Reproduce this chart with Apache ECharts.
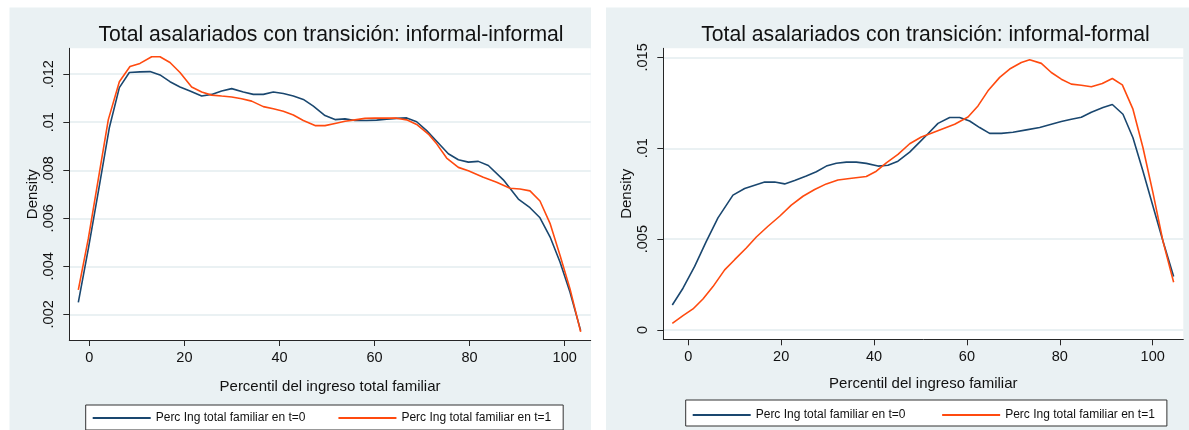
<!DOCTYPE html>
<html>
<head>
<meta charset="utf-8">
<script src="https://cdn.jsdelivr.net/npm/echarts@6/dist/echarts.min.js"></script>
<style>
html,body{margin:0;padding:0;background:#fff;}
#c{width:1189px;height:430px;}
</style>
</head>
<body>
<div id="c"></div>
<script>
// ---------- DATA ----------
var titles = ['Total asalariados con transición: informal-informal', 'Total asalariados con transición: informal-formal'];
var xNames = ['Percentil del ingreso total familiar', 'Percentil del ingreso familiar'];
var yName = 'Density';
var seriesNames = ['Perc Ing total familiar en t=0', 'Perc Ing total familiar en t=1'];
var xTicks = [0, 20, 40, 60, 80, 100];
var yTicksLeft = [0.002, 0.004, 0.006, 0.008, 0.01, 0.012];
var yTicksRight = [0, 0.005, 0.01, 0.015];

// Left panel: informal-informal
var leftX0 = [-2.31,-0.20,1.90,4.21,6.32,8.42,10.66,12.77,14.87,16.97,19.08,21.18,23.64,25.74,27.84,29.95,32.40,34.50,36.61,38.71,40.81,42.92,45.02,47.13,49.58,51.68,53.79,55.89,58.35,60.45,62.55,64.66,66.76,68.86,70.97,73.07,75.52,77.63,79.73,81.83,83.94,87.09,90.25,92.70,94.80,96.91,99.01,101.12,103.36];
var leftY0 = [0.00250,0.00474,0.00711,0.00977,0.01144,0.01207,0.01210,0.01211,0.01197,0.01169,0.01147,0.01130,0.01109,0.01116,0.01130,0.01140,0.01126,0.01116,0.01116,0.01126,0.01120,0.01109,0.01095,0.01067,0.01028,0.01011,0.01014,0.01007,0.01007,0.01009,0.01013,0.01016,0.01018,0.01002,0.00965,0.00921,0.00869,0.00844,0.00834,0.00837,0.00820,0.00760,0.00680,0.00644,0.00602,0.00523,0.00418,0.00292,0.00132];
var leftX1 = [-2.31,-0.20,1.69,4.00,6.32,8.56,10.66,13.12,14.87,16.97,19.08,21.53,23.64,25.74,27.84,29.95,32.05,34.15,36.61,38.71,40.81,42.92,45.02,47.48,49.58,51.68,53.79,55.89,57.99,60.10,62.55,64.66,66.76,68.86,71.32,73.07,75.17,77.63,79.73,82.88,85.69,88.49,90.60,92.70,94.80,96.91,99.01,101.12,103.36];
var leftY1 = [0.00302,0.00516,0.00739,0.01011,0.01169,0.01232,0.01245,0.01273,0.01273,0.01249,0.01207,0.01147,0.01126,0.01113,0.01109,0.01105,0.01098,0.01088,0.01065,0.01056,0.01046,0.01030,0.01007,0.00986,0.00986,0.00995,0.01004,0.01010,0.01016,0.01017,0.01017,0.01017,0.01010,0.00991,0.00951,0.00910,0.00851,0.00812,0.00798,0.00771,0.00750,0.00725,0.00722,0.00714,0.00672,0.00579,0.00446,0.00306,0.00127];

// Right panel: informal-formal
var rightX0 = [-3.44,-1.14,1.37,3.88,6.39,9.62,12.14,14.29,16.44,18.60,20.75,22.90,25.41,27.57,29.72,31.87,34.03,36.18,38.33,40.85,43.00,45.15,47.67,49.82,51.61,53.77,56.28,58.43,60.58,62.74,64.89,67.40,69.91,72.79,75.66,78.17,80.32,82.48,84.63,86.79,89.30,91.31,93.60,95.75,97.91,100.06,102.22,104.51];
var rightY0 = [0.00138,0.00230,0.00350,0.00488,0.00617,0.00742,0.00779,0.00797,0.00814,0.00814,0.00804,0.00823,0.00847,0.00871,0.00902,0.00918,0.00924,0.00924,0.00917,0.00902,0.00907,0.00929,0.00979,0.01034,0.01080,0.01137,0.01169,0.01169,0.01150,0.01114,0.01082,0.01082,0.01088,0.01101,0.01114,0.01132,0.01147,0.01160,0.01171,0.01198,0.01224,0.01241,0.01187,0.01058,0.00874,0.00681,0.00488,0.00295];
var rightX1 = [-3.44,-1.14,1.01,3.16,5.32,7.83,9.98,12.49,14.65,17.16,19.67,22.18,24.70,27.21,29.72,32.23,34.75,38.33,40.49,42.64,45.15,47.67,50.18,52.33,54.84,57.36,60.23,62.38,64.53,67.05,69.20,71.71,73.51,76.02,78.17,80.32,82.48,84.63,86.79,89.15,91.31,93.46,95.75,97.91,100.06,102.22,104.51];
var rightY1 = [0.00037,0.00079,0.00116,0.00171,0.00239,0.00331,0.00387,0.00451,0.00512,0.00571,0.00626,0.00687,0.00736,0.00773,0.00804,0.00825,0.00834,0.00845,0.00874,0.00920,0.00966,0.01025,0.01062,0.01082,0.01108,0.01132,0.01172,0.01233,0.01316,0.01390,0.01436,0.01472,0.01487,0.01467,0.01417,0.01380,0.01353,0.01347,0.01338,0.01356,0.01384,0.01349,0.01215,0.01003,0.00755,0.00488,0.00263];

// ---------- STYLE ----------
var FONT = 'Liberation Sans, Arial, sans-serif';
var BG = '#eaf1f3';
var GRID = '#e3edef';
var AX = '#262626';
var C0 = '#1a476f';
var C1 = '#ff4a0f';

function pairs(xs, ys) { return xs.map(function (x, i) { return [x, ys[i]]; }); }
function fmtY(v) {
  if (v === 0) return '0';
  var s = String(+v.toFixed(4));
  return s.replace(/^0\./, '.');
}

function xAxis(gi, min, max, nameGap, margin) {
  return {
    type: 'value', gridIndex: gi, min: min, max: max,
    name: xNames[gi], nameLocation: 'middle', nameGap: nameGap,
    nameTextStyle: { fontFamily: FONT, fontSize: 15, color: '#111' },
    axisLine: { show: true, onZero: false, lineStyle: { color: AX, width: 1 } },
    axisTick: { show: true, length: 6, customValues: xTicks, lineStyle: { color: AX } },
    axisLabel: { customValues: xTicks, margin: margin, fontFamily: FONT, fontSize: 14.5, color: '#111' },
    splitLine: { show: false }
  };
}
function yAxis(gi, min, max, ticks) {
  return {
    type: 'value', gridIndex: gi, min: min, max: max,
    name: yName, nameLocation: 'middle', nameGap: 24, nameRotate: 90,
    nameTextStyle: { fontFamily: FONT, fontSize: 15, color: '#111' },
    axisLine: { show: true, onZero: false, lineStyle: { color: AX, width: 1 } },
    axisTick: { show: true, length: 6, customValues: ticks, lineStyle: { color: AX } },
    axisLabel: { customValues: ticks, rotate: 90, margin: 13, fontFamily: FONT, fontSize: 14.5, color: '#111', formatter: fmtY },
    splitLine: { show: true, lineStyle: { color: GRID, width: 1.5 } }
  };
}
function line(name, data, gi, color) {
  return {
    type: 'line', name: name, data: data, xAxisIndex: gi, yAxisIndex: gi,
    symbol: 'none', showSymbol: false, smooth: false,
    lineStyle: { color: color, width: 1.6 }, itemStyle: { color: color },
    emphasis: { disabled: true }
  };
}
function legend(left, top, gap, pad) {
  return {
    left: left, top: top, orient: 'horizontal',
    data: seriesNames, itemWidth: 58, itemHeight: 14, itemGap: gap,
    padding: pad, borderColor: '#333', borderWidth: 1, backgroundColor: '#fff',
    itemStyle: { color: 'rgba(0,0,0,0)', borderColor: 'rgba(0,0,0,0)', borderWidth: 0, opacity: 0 },
    textStyle: { fontFamily: FONT, fontSize: 12, color: '#111' },
    selectedMode: false
  };
}

var chart = echarts.init(document.getElementById('c'), null, { renderer: 'canvas' });
chart.setOption({
  animation: false,
  backgroundColor: '#fff',
  graphic: [
    { type: 'rect', shape: { x: 9.5, y: 7.5, width: 581.5, height: 423 }, style: { fill: BG }, z: -10, silent: true },
    { type: 'rect', shape: { x: 606, y: 7.5, width: 583, height: 423 }, style: { fill: BG }, z: -10, silent: true }
  ],
  title: [
    { text: titles[0], left: 326, top: 20, textAlign: 'center', textStyle: { fontFamily: FONT, fontSize: 21.2, fontWeight: 'normal', color: '#111' } },
    { text: titles[1], left: 920.5, top: 20, textAlign: 'center', textStyle: { fontFamily: FONT, fontSize: 21.2, fontWeight: 'normal', color: '#111' } }
  ],
  grid: [
    { left: 69.3, top: 48.3, width: 521.4, height: 291.7, show: true, backgroundColor: '#fff', borderWidth: 0, containLabel: false },
    { left: 663.3, top: 48.3, width: 520, height: 291, show: true, backgroundColor: '#fff', borderWidth: 0, containLabel: false }
  ],
  xAxis: [ xAxis(0, -4.207, 105.47, 39.5, 10.3), xAxis(1, -5.38, 106.59, 36.7, 10) ],
  yAxis: [ yAxis(0, 0.00093, 0.01308, yTicksLeft), yAxis(1, -0.00051, 0.0155, yTicksRight) ],
  legend: [ legend(85.7, 405, 32, [7, 12, 6, 6]), legend(685.7, 400, 35.7, [9, 12, 5, 6]) ],
  series: [
    line(seriesNames[0], pairs(leftX0, leftY0), 0, C0),
    line(seriesNames[1], pairs(leftX1, leftY1), 0, C1),
    line(seriesNames[0], pairs(rightX0, rightY0), 1, C0),
    line(seriesNames[1], pairs(rightX1, rightY1), 1, C1)
  ]
});
</script>
</body>
</html>
